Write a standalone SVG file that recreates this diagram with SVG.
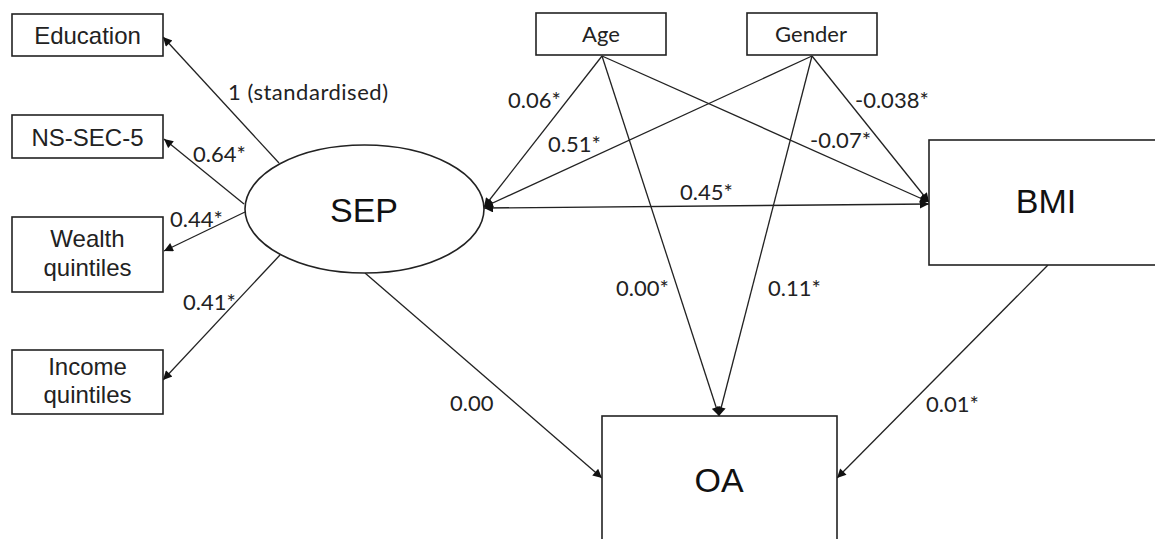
<svg xmlns="http://www.w3.org/2000/svg" width="1155" height="539" viewBox="0 0 1155 539">
<defs>
<style>
.box{fill:#fff;stroke:#222;stroke-width:1.6}
.bt{font-family:"Liberation Sans",Arial,sans-serif;font-size:24px;fill:#222;text-anchor:middle}
.big{font-family:"Liberation Sans",Arial,sans-serif;font-size:34px;fill:#111;text-anchor:middle}
.ct{font-family:Lato,"Open Sans",sans-serif;font-size:22px;fill:#222;text-anchor:middle}
.lb{font-family:Lato,"Open Sans",sans-serif;font-size:22px;fill:#222}
.cn{stroke:#222;stroke-width:1.3;fill:none;marker-end:url(#ah)}
</style>
<marker id="ah" viewBox="0 0 10 10" refX="10" refY="5" markerWidth="11" markerHeight="9" markerUnits="userSpaceOnUse" orient="auto">
<path d="M0,0 L10,5 L0,10 z" fill="#111"/>
</marker>
<marker id="ahs" viewBox="0 0 10 10" refX="0" refY="5" markerWidth="11" markerHeight="9" markerUnits="userSpaceOnUse" orient="auto">
<path d="M10,0 L0,5 L10,10 z" fill="#111"/>
</marker>
</defs>
<rect width="1155" height="539" fill="#fff"/>
<g id="connectors">
<path class="cn" d="M279,163 L163,37"/>
<path class="cn" d="M244,204 L164,139"/>
<path class="cn" d="M245,212 L164,251"/>
<path class="cn" d="M280,255 L163,380"/>
<path class="cn" d="M365,273 L602,478"/>
<path class="cn" d="M1048,265 L837,478"/>
<path class="cn" d="M602,56 L484,207"/>
<path class="cn" d="M812,56 L484,207"/>
<path class="cn" d="M602,56 L929,202"/>
<path class="cn" d="M812,56 L929,202"/>
<path class="cn" d="M602,56 L719,416"/>
<path class="cn" d="M812,56 L719,416"/>
<path class="cn" d="M484,208 L929,204" marker-start="url(#ahs)"/>
</g>
<g id="labels">
<text class="lb" x="228" y="100" textLength="160">1 (standardised)</text>
<text class="lb" x="193" y="162">0.64*</text>
<text class="lb" x="170" y="227">0.44*</text>
<text class="lb" x="183" y="310">0.41*</text>
<text class="lb" x="508" y="108">0.06*</text>
<text class="lb" x="548" y="152">0.51*</text>
<text class="lb" x="680" y="200">0.45*</text>
<text class="lb" x="855" y="108">-0.038*</text>
<text class="lb" x="810" y="148">-0.07*</text>
<text class="lb" x="616" y="296">0.00*</text>
<text class="lb" x="768" y="296">0.11*</text>
<text class="lb" x="450" y="411">0.00</text>
<text class="lb" x="926" y="412">0.01*</text>
</g>
<g id="education"><rect class="box" x="12" y="14" width="151" height="42"/><text class="bt" x="87.5" y="44">Education</text></g>
<g id="nssec"><rect class="box" x="12" y="115" width="151" height="43"/><text class="bt" x="87.5" y="146">NS-SEC-5</text></g>
<g id="wealth"><rect class="box" x="12" y="217" width="151" height="75"/><text class="bt" x="87.5" y="247">Wealth</text><text class="bt" x="87.5" y="276">quintiles</text></g>
<g id="income"><rect class="box" x="12" y="350" width="151" height="64"/><text class="bt" x="87.5" y="375">Income</text><text class="bt" x="87.5" y="403">quintiles</text></g>
<g id="sep"><ellipse class="box" cx="364.5" cy="209" rx="119.5" ry="64"/><text class="big" x="364" y="222">SEP</text></g>
<g id="age"><rect class="box" x="536" y="13" width="130" height="42"/><text class="ct" x="601" y="42">Age</text></g>
<g id="gender"><rect class="box" x="747" y="13" width="130" height="42"/><text class="ct" x="811" y="42">Gender</text></g>
<g id="bmi"><rect class="box" x="929" y="140" width="240" height="125"/><text class="big" x="1046" y="213">BMI</text></g>
<g id="oa"><rect class="box" x="602" y="416" width="235" height="140"/><text class="big" x="719" y="492">OA</text></g>
</svg>
